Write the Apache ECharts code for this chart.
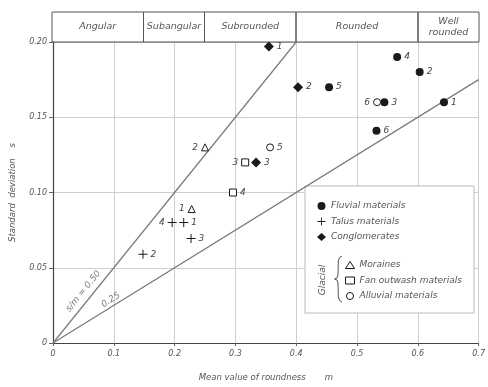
<!DOCTYPE html>
<html><head><meta charset="utf-8">
<script src="https://cdn.jsdelivr.net/npm/echarts@6/dist/echarts.min.js"></script>
<style>html,body{margin:0;padding:0;background:#fff}#c{width:488px;height:387px}</style>
</head><body><div id="c"></div>
<script>
// ---- data ----
const classBounds = [0, 0.15, 0.25, 0.40, 0.60, 0.70];
const classNames = ['Angular', 'Subangular', 'Subrounded', 'Rounded', 'Well\nrounded'];
const ratios = [0.50, 0.25];
const ratioLabels = ['s/m = 0.50', '0.25'];

const fluvial = [[0.643, 0.160, '1'], [0.603, 0.180, '2'], [0.545, 0.160, '3'], [0.566, 0.190, '4'], [0.454, 0.170, '5'], [0.532, 0.141, '6']];
const talus = [[0.215, 0.080, '1'], [0.148, 0.059, '2'], [0.227, 0.0695, '3'], [0.196, 0.080, '4']];
const conglomerates = [[0.355, 0.197, '1'], [0.403, 0.170, '2'], [0.334, 0.120, '3']];
const moraines = [[0.228, 0.089, '1'], [0.250, 0.130, '2']];
const fanOutwash = [[0.316, 0.120, '3'], [0.296, 0.100, '4']];
const alluvial = [[0.357, 0.130, '5'], [0.533, 0.160, '6']];

// labels drawn on the left side of the marker
const leftLabelled = {
  'Talus materials': ['4'],
  'Moraines': ['1', '2'],
  'Fan outwash materials': ['3'],
  'Alluvial materials': ['6']
};

// ---- styles ----
const FONT = 'DejaVu Sans';
const INK = '#1a1a1a';
const TXT = '#555';
const plusPath = 'path://M-5,-0.55H5V0.55H-5Z M-0.55,-5H0.55V5H-0.55Z';

function scatter(name, data, symbol, size, open) {
  const left = leftLabelled[name] || [];
  return {
    name, type: 'scatter', symbol, symbolSize: size, z: 5,
    itemStyle: open ? { color: '#fff', borderColor: INK, borderWidth: 1, opacity: 1 } : { color: INK, opacity: 1 },
    data: data.map(d => ({
      value: [d[0], d[1]],
      label: { position: left.includes(d[2]) ? 'left' : 'right' },
      name: d[2]
    })),
    label: {
      show: true, formatter: p => p.name, distance: 3,
      fontFamily: FONT, fontSize: 9, fontStyle: 'italic', color: '#444'
    }
  };
}

const headerAreas = classNames.map((n, i) => [
  { xAxis: classBounds[i], yAxis: 0, name: n },
  { xAxis: classBounds[i + 1], yAxis: 1 }
]);

const ratioLines = ratios.map(r => {
  const mEnd = Math.min(0.7, 0.2 / r);
  return {
    type: 'line', data: [[0, 0], [mEnd, mEnd * r]], symbol: 'none', silent: true, z: 3,
    lineStyle: { color: '#7a7a7a', width: 1.2 }
  };
});

const ratioText = {
  type: 'scatter', symbolSize: 0, silent: true, z: 4,
  data: [
    { value: [0.050, 0.0345], name: ratioLabels[0], label: { rotate: 51 } },
    { value: [0.095, 0.0285], name: ratioLabels[1], label: { rotate: 32 } }
  ],
  label: {
    show: true, position: 'inside', formatter: p => p.name,
    fontFamily: FONT, fontSize: 9, fontStyle: 'italic', color: TXT
  }
};

const option = {
  animation: false,
  backgroundColor: '#fff',
  textStyle: { fontFamily: FONT },
  grid: [
    { left: 52, right: 9, top: 42, bottom: 43 },
    { left: 52, right: 9, top: 12, height: 30 }
  ],
  xAxis: [
    {
      type: 'value', min: 0, max: 0.7, interval: 0.1, gridIndex: 0,
      name: 'Mean value of roundness       m', nameLocation: 'middle', nameGap: 30,
      nameTextStyle: { fontFamily: FONT, fontSize: 8.5, fontStyle: 'italic', color: TXT },
      axisLine: { lineStyle: { color: '#444', width: 1.2 } },
      axisTick: { show: true, length: 3, lineStyle: { color: '#666' } },
      axisLabel: { formatter: v => v === 0 ? '0' : v.toFixed(1), fontFamily: FONT, fontSize: 8, fontStyle: 'italic', color: TXT, margin: 7 },
      splitLine: { show: true, lineStyle: { color: '#cfcfcf', width: 1 } }
    },
    { type: 'value', min: 0, max: 0.7, gridIndex: 1, show: false }
  ],
  yAxis: [
    {
      type: 'value', min: 0, max: 0.2, interval: 0.05, gridIndex: 0,
      name: 'Standard  deviation    s', nameLocation: 'middle', nameGap: 36, nameRotate: 90,
      nameTextStyle: { fontFamily: FONT, fontSize: 8.5, fontStyle: 'italic', color: TXT },
      axisLine: { show: true, lineStyle: { color: '#444', width: 1.2 } },
      axisTick: { show: true, length: 4, lineStyle: { color: '#666' } },
      axisLabel: { formatter: v => v === 0 ? '0' : v.toFixed(2), fontFamily: FONT, fontSize: 8, fontStyle: 'italic', color: TXT, margin: 6 },
      splitLine: { show: true, lineStyle: { color: '#cfcfcf', width: 1 } }
    },
    { type: 'value', min: 0, max: 1, gridIndex: 1, show: false }
  ],
  legend: [
    {
      left: 312, top: 196, orient: 'vertical', itemGap: 5.5, itemWidth: 9, itemHeight: 8,
      data: ['Fluvial materials', 'Talus materials', 'Conglomerates'],
      textStyle: { fontFamily: FONT, fontSize: 9, fontStyle: 'italic', color: TXT, lineHeight: 10 },
      selectedMode: false
    },
    {
      left: 340, top: 255, orient: 'vertical', itemGap: 5.5, itemWidth: 9, itemHeight: 7,
      itemStyle: { borderWidth: 1 },
      data: ['Moraines', 'Fan outwash materials', 'Alluvial materials'],
      textStyle: { fontFamily: FONT, fontSize: 9, fontStyle: 'italic', color: TXT, lineHeight: 10 },
      selectedMode: false
    }
  ],
  graphic: [
    { type: 'rect', z: 3, shape: { x: 305, y: 186, width: 169, height: 127 },
      style: { fill: '#fff', stroke: '#bbb', lineWidth: 1 } },
    { type: 'polyline', z: 4,
      shape: { points: [[342,256],[339.5,257.5],[338.3,261],[338,275],[337,278],[334.5,279],[337,280],[338,283],[338.3,297],[339.5,300.5],[342,302]] },
      style: { fill: 'none', stroke: '#555', lineWidth: 1 } },
    { type: 'text', z: 4, x: 323, y: 280, rotation: Math.PI / 2,
      style: { text: 'Glacial', fontFamily: FONT, fontSize: 9, fontStyle: 'italic', fill: TXT, align: 'center', verticalAlign: 'middle' } }
  ],
  series: [
    {
      type: 'scatter', xAxisIndex: 1, yAxisIndex: 1, data: [], silent: true,
      markArea: {
        silent: true,
        itemStyle: { color: 'rgba(0,0,0,0)', borderColor: '#555', borderWidth: 1 },
        label: { show: true, position: 'inside', fontFamily: FONT, fontSize: 9.5, fontStyle: 'italic', color: TXT, lineHeight: 11 },
        data: headerAreas
      }
    },
    ...ratioLines,
    ratioText,
    scatter('Fluvial materials', fluvial, 'circle', 8, false),
    scatter('Talus materials', talus, plusPath, 9, false),
    scatter('Conglomerates', conglomerates, 'diamond', 10, false),
    scatter('Moraines', moraines, 'triangle', 7, true),
    scatter('Fan outwash materials', fanOutwash, 'rect', 7, true),
    scatter('Alluvial materials', alluvial, 'circle', 7, true)
  ]
};

const chart = echarts.init(document.getElementById('c'), null, { renderer: 'canvas' });
chart.setOption(option);
</script>
</body></html>
